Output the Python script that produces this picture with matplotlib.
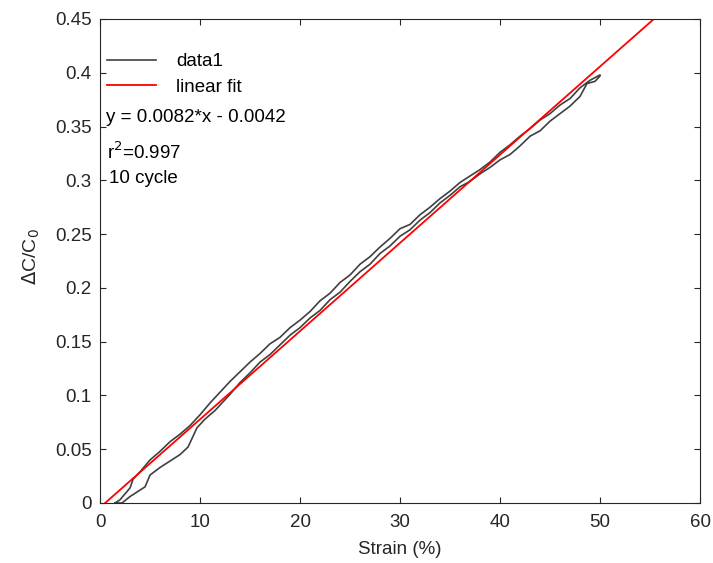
import numpy as np
import matplotlib.pyplot as plt

plt.rcParams['font.family'] = ['Liberation Sans', 'DejaVu Sans']

# loading branch (strain %, dC/C0)
load_x = [1.5, 2.2, 3.0, 4.0, 4.5, 5.0, 6.0, 7.0, 8.0, 8.8, 9.7, 10.5, 11.5, 12.5,
          13.0, 14.0, 15.0, 16.0, 17.0, 18.0, 19.0, 20.0, 21.0, 22.0, 23.0, 24.0, 25.0,
          26.0, 27.0, 28.0, 29.0, 30.0, 31.0, 32.0, 33.0, 34.0, 35.0, 36.0, 37.0, 38.0,
          39.0, 40.0, 41.0, 42.0, 43.0, 44.0, 45.0, 46.0, 47.0, 48.0, 48.7, 49.5, 50.0]
load_y = [0.0, 0.0, 0.006, 0.012, 0.015, 0.026, 0.033, 0.039, 0.045, 0.052, 0.070, 0.078, 0.086, 0.096,
          0.101, 0.112, 0.121, 0.131, 0.138, 0.147, 0.156, 0.163, 0.172, 0.179, 0.189, 0.196, 0.206,
          0.215, 0.222, 0.232, 0.239, 0.248, 0.254, 0.263, 0.270, 0.279, 0.286, 0.294, 0.299, 0.306,
          0.312, 0.319, 0.324, 0.332, 0.341, 0.346, 0.355, 0.362, 0.369, 0.378, 0.390, 0.392, 0.397]

# unloading branch
unload_x = [50.0, 49.0, 48.0, 47.0, 46.0, 45.0, 44.0, 43.0, 42.0, 41.0, 40.0, 39.0, 38.0, 37.0,
            36.0, 35.0, 34.0, 33.0, 32.0, 31.0, 30.0, 29.0, 28.0, 27.0, 26.0, 25.0, 24.0, 23.0,
            22.0, 21.0, 20.0, 19.0, 18.0, 17.0, 16.0, 15.0, 14.0, 13.0, 12.0, 11.0, 10.0, 9.0,
            8.0, 7.0, 6.0, 5.0, 4.0, 3.3, 3.0, 2.0, 1.5]
unload_y = [0.398, 0.393, 0.386, 0.376, 0.370, 0.362, 0.356, 0.348, 0.341, 0.333, 0.326, 0.317, 0.310, 0.304,
            0.298, 0.290, 0.283, 0.275, 0.268, 0.259, 0.255, 0.246, 0.238, 0.229, 0.222, 0.212, 0.205, 0.195,
            0.188, 0.178, 0.170, 0.163, 0.154, 0.148, 0.139, 0.131, 0.122, 0.113, 0.103, 0.093, 0.082, 0.072,
            0.064, 0.057, 0.048, 0.040, 0.029, 0.022, 0.014, 0.003, 0.0]

slope, intercept = 0.0082, -0.0042

fig = plt.figure(figsize=(7.13, 5.63), dpi=100)
ax = fig.add_axes([0.1403, 0.1066, 0.8415, 0.8597])

data_x = load_x + unload_x
data_y = load_y + unload_y
ax.plot(data_x, data_y, color='#404040', lw=1.2, label='data1')
fx = np.array([0, 60])
ax.plot(fx, slope * fx + intercept, color='#ff0000', lw=1.3, label='linear fit')

fs = 13.5
ax.set_xlim(0, 60)
ax.set_ylim(0, 0.45)
ax.set_xticks(np.arange(0, 61, 10))
ax.set_yticks(np.arange(0, 0.451, 0.05))
ax.set_yticklabels(['0', '0.05', '0.1', '0.15', '0.2', '0.25', '0.3', '0.35', '0.4', '0.45'])
ax.tick_params(direction='in', top=True, right=True, length=4, width=0.8,
               labelsize=fs, colors='#262626')
ax.tick_params(axis='x', pad=8)
ax.tick_params(axis='y', pad=6)
for s in ax.spines.values():
    s.set_color('#262626')
    s.set_linewidth(0.8)

ax.set_xlabel('Strain (%)', fontsize=fs, color='#262626')
ax.xaxis.set_label_coords(0.5, -0.078)
ax.set_ylabel(r'$\Delta$C/C$_0$', fontsize=14, color='#262626')
ax.yaxis.set_label_coords(-0.097, 0.51)

ax.legend(loc='upper left', frameon=False, fontsize=fs, handlelength=2.6,
          handletextpad=1.1, borderpad=0, borderaxespad=0,
          bbox_to_anchor=(0.0117, 0.929), labelspacing=0.45)

ax.text(0.01, 0.797, 'y = 0.0082*x - 0.0042', transform=ax.transAxes, fontsize=fs,
        va='center', color='#000000')
ax.text(0.012, 0.725, r'r$^2$=0.997', transform=ax.transAxes, fontsize=fs,
        va='center', color='#000000')
ax.text(0.015, 0.671, '10 cycle', transform=ax.transAxes, fontsize=fs,
        va='center', color='#000000')

fig.savefig('out.png', dpi=100)
